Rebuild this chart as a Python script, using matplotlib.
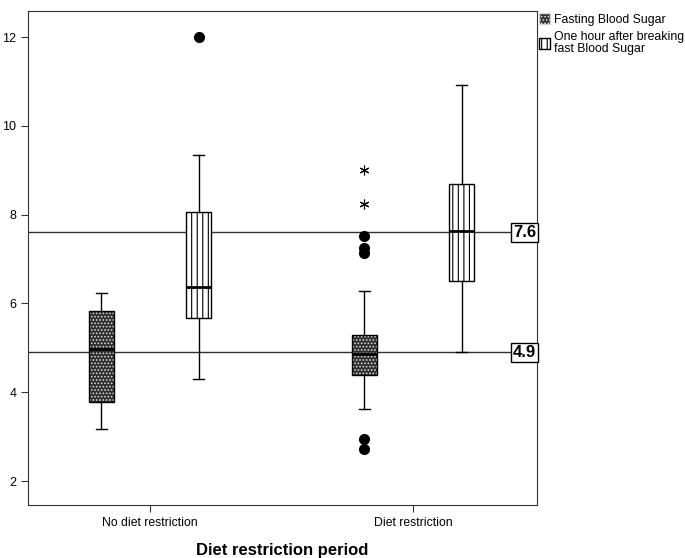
import matplotlib
matplotlib.use("Agg")
import matplotlib.pyplot as plt
import matplotlib.patches as mpatches
import matplotlib.transforms as mtransforms
from matplotlib.patches import PathPatch

plt.rcParams['font.family'] = ['Liberation Sans', 'DejaVu Sans']
plt.rcParams['hatch.linewidth'] = 0.8

groups = ["No diet restriction", "Diet restriction"]
series = ["Fasting Blood Sugar", "One hour after breaking\nfast Blood Sugar"]

# whislo, q1, median, q3, whishi
fasting_stats = [[3.17, 3.79, 4.97, 5.83, 6.23],
                 [3.62, 4.39, 4.87, 5.29, 6.29]]
onehour_stats = [[4.30, 5.68, 6.38, 8.06, 9.34],
                 [4.90, 6.50, 7.63, 8.69, 10.92]]
fasting_outliers = [[], [2.73, 2.95, 7.13, 7.25, 7.52]]
fasting_extremes = [[], [8.24, 9.00]]
onehour_outliers = [[12.0], []]
onehour_extremes = [[], []]
ref_values = [7.6, 4.9]

fig = plt.figure(figsize=(6.85, 5.58), dpi=100)
ax = fig.add_axes([0.041, 0.095, 0.743, 0.885])

def make_stats(rows, outs):
    res = []
    for r, o in zip(rows, outs):
        res.append(dict(whislo=r[0], q1=r[1], med=r[2], q3=r[3], whishi=r[4], fliers=o))
    return res

offset = 0.185
width = 0.095
pos_f = [i - offset for i in range(len(groups))]
pos_o = [i + offset for i in range(len(groups))]

flierprops = dict(marker='o', markerfacecolor='black', markeredgecolor='black', markersize=7)
common = dict(widths=width, patch_artist=True, showfliers=True, capwidths=width * 0.45,
              medianprops=dict(color='black', linewidth=2),
              whiskerprops=dict(color='black', linewidth=1),
              capprops=dict(color='black', linewidth=1),
              flierprops=flierprops)

bf = ax.bxp(make_stats(fasting_stats, fasting_outliers), positions=pos_f, **common)
bo = ax.bxp(make_stats(onehour_stats, onehour_outliers), positions=pos_o, **common)

dark = '#2e2e2e'
for b in bf['boxes']:
    b.set_facecolor(dark)
    b.set_edgecolor('#d8d8d8')
    b.set_hatch('.....')
    b.set_linewidth(0)
    ax.add_patch(PathPatch(b.get_path(), fill=False, edgecolor='black', linewidth=1, zorder=b.get_zorder() + 0.1))
for b in bo['boxes']:
    b.set_facecolor('white')
    b.set_edgecolor('black')
    b.set_hatch('|||')
    b.set_linewidth(1)
for m in bf['medians'] + bo['medians']:
    m.set_zorder(5)

# extreme outliers as asterisks
for p, vals in zip(pos_f, fasting_extremes):
    if vals:
        ax.plot([p] * len(vals), vals, linestyle='none', marker=(6, 2, 0), color='black', markersize=7, markeredgewidth=0.8)
for p, vals in zip(pos_o, onehour_extremes):
    if vals:
        ax.plot([p] * len(vals), vals, linestyle='none', marker=(6, 2, 0), color='black', markersize=7, markeredgewidth=0.8)

trans = mtransforms.blended_transform_factory(ax.transAxes, ax.transData)
for v in ref_values:
    ax.axhline(v, color='#333333', linewidth=1, zorder=1)
    ax.text(0.998, v, "%.1f" % v, transform=trans, ha='right', va='center', fontsize=12,
            fontweight='bold', bbox=dict(boxstyle='square,pad=0.12', facecolor='white', edgecolor='black', linewidth=1),
            zorder=6)

ax.set_xlim(-0.464, 1.471)
ax.set_ylim(1.46, 12.585)
ax.set_xticks(range(len(groups)))
ax.set_xticklabels(groups, fontsize=8.8)
ax.set_yticks([2, 4, 6, 8, 10, 12])
ax.set_yticklabels(['2', '4', '6', '8', '10', '12'], fontsize=9)
ax.tick_params(direction='out', length=5, color='#333333')
for s in ax.spines.values():
    s.set_color('#333333')
ax.set_xlabel("Diet restriction period", fontsize=12, fontweight='bold', labelpad=10)

h1 = mpatches.Patch(facecolor=dark, edgecolor='#d8d8d8', hatch='.....', label=series[0])
h2 = mpatches.Patch(facecolor='white', edgecolor='black', hatch='|||', label=series[1])
leg = fig.legend(handles=[h1, h2], loc='upper left', bbox_to_anchor=(0.779, 0.985), frameon=False,
                 fontsize=8.8, handlelength=0.9, handleheight=1.0, handletextpad=0.35, labelspacing=0.4,
                 borderaxespad=0)
for t in leg.get_texts():
    t.set_linespacing(1.0)

fig.savefig("out.png", dpi=100)
